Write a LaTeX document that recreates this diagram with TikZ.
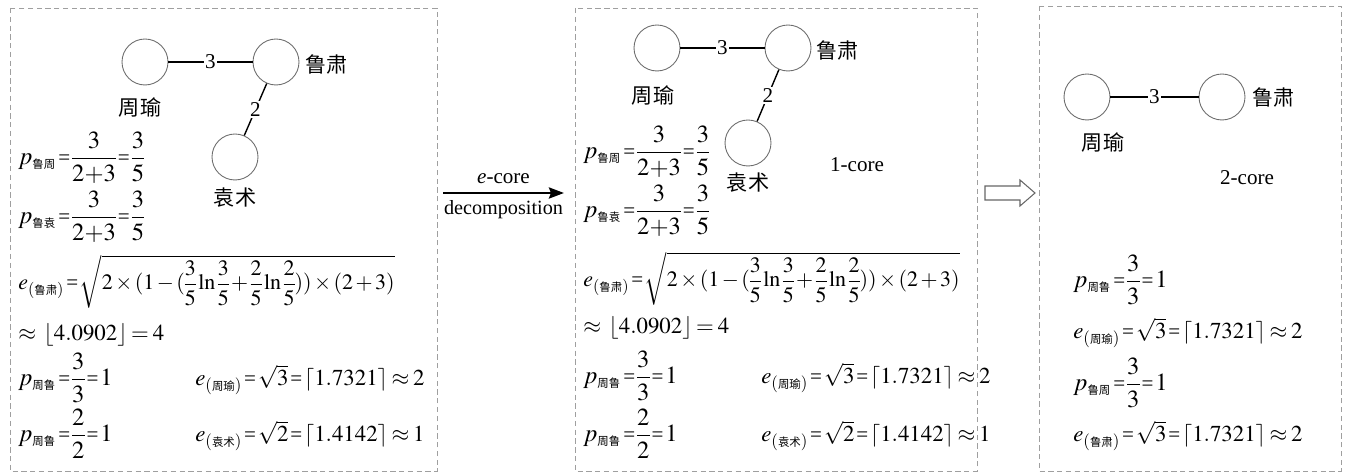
\documentclass[tikz,border=0pt]{standalone}
\usepackage{amsmath}
\usepackage{mathptmx}
\usepackage{fontspec}
\setmainfont{Liberation Serif}
\newfontfamily\cjk{Noto Sans CJK SC}
\usetikzlibrary{positioning,arrows.meta}
\newcommand{\cn}[1]{\mbox{\cjk\fontsize{6.5}{7}\selectfont #1}}
\newcommand{\tighteq}{\mkern1.5mu\mathord{\text{\fontsize{12}{12}\selectfont=}}\mkern1.5mu}
\newcommand{\tightapprox}{\mkern3mu\mathord{\approx}\mkern3mu}
\newcommand{\formulafont}[1]{\fontsize{#1}{#1}\selectfont\medmuskip=2mu\nulldelimiterspace=0pt}
\tikzset{
    corepanel/.style={draw=gray!75, densely dashed, line width=0.5pt},
    corevertex/.style={draw=gray!85!black, circle, minimum size=0.92cm, inner sep=0pt, line width=0.5pt},
    corename/.style={font=\cjk\fontsize{12}{14}\selectfont, inner sep=0pt},
    coreedge/.style={draw, line width=0.8pt},
    coreweight/.style={fill=white, inner sep=0.6pt, font=\fontsize{12}{14}\selectfont},
    coretag/.style={font=\fontsize{12}{14}\selectfont, inner sep=0pt},
    coreformula/.style={anchor=base west, inner sep=0pt, font=\formulafont{14}},
    coreeline/.style={coreformula, font=\formulafont{13}},
    coreroot/.style={coreformula, font=\formulafont{12.5}},
    corearrow/.style={draw, -{Stealth[length=3mm, width=2.2mm, inset=0.4mm]}, line width=1.5pt},
    corehollow/.style={draw=gray!80!black, line width=0.6pt, fill=white}
}

\begin{document}
\begin{tikzpicture}[x=0.02cm, y=-0.02cm]
    \useasboundingbox (0,0) rectangle (1347,472);
    % panels
    \draw[corepanel] (10,8) rectangle (437,471);
    \draw[corepanel] (575,8) rectangle (977,471);
    \draw[corepanel] (1039,6) rectangle (1341,471);

    % panel 1: graph
    \node[corevertex] (zyA) at (145,62) {};
    \node[corevertex] (lsA) at (276,62) {};
    \node[corevertex] (ysA) at (235,157) {};
    \node[corename, below=0.24cm of zyA, xshift=-0.1cm] (zyAname) {周瑜};
    \node[corename, right=0.12cm of lsA, yshift=-0.04cm] (lsAname) {鲁肃};
    \node[corename, below=0.14cm of ysA] (ysAname) {袁术};
    \draw[coreedge] (zyA) -- node[coreweight] (wAone) {3} (lsA);
    \draw[coreedge] (lsA) -- node[coreweight] (wAtwo) {2} (ysA);

    % panel 1: formulas
    \node[coreformula] (fAone) at (18,165) {$p_{\cn{鲁周}}\tighteq\dfrac{3}{2{+}3}\tighteq\dfrac{3}{5}$};
    \node[coreformula] (fAtwo) at (18,224) {$p_{\cn{鲁袁}}\tighteq\dfrac{3}{2{+}3}\tighteq\dfrac{3}{5}$};
    \node[coreroot] (fAthree) at (18,290) {$e_{(\cn{鲁肃})}\tighteq\sqrt{2\times(1-(\dfrac{3}{5}\ln\dfrac{3}{5}+\dfrac{2}{5}\ln\dfrac{2}{5}))\times(2+3)}$};
    \node[coreeline] (fAfour) at (18,341) {$\approx\mkern2mu\lfloor 4.0902\rfloor\mkern3mu{=}\mkern3mu4$};
    \node[coreformula] (fAfive) at (18,386) {$p_{\cn{周鲁}}\tighteq\dfrac{3}{3}\tighteq1$};
    \node[coreeline] (fAsix) at (195,386) {$e_{(\cn{周瑜})}\tighteq\sqrt{3}\tighteq\lceil 1.7321\rceil\tightapprox 2$};
    \node[coreformula] (fAseven) at (18,442) {$p_{\cn{周鲁}}\tighteq\dfrac{2}{2}\tighteq1$};
    \node[coreeline] (fAeight) at (195,442) {$e_{(\cn{袁术})}\tighteq\sqrt{2}\tighteq\lceil 1.4142\rceil\tightapprox 1$};

    % e-core decomposition arrow
    \coordinate (decA) at (443,193);
    \coordinate (decB) at (564,193);
    \draw[corearrow] (decA) -- node[coretag, above=0.16cm] (decup) {\textit{e}-core} node[coretag, below=0.12cm, font=\fontsize{11.5}{13}\selectfont] (decdown) {decomposition} (decB);

    % panel 2: graph
    \node[corevertex] (zyB) at (657,48) {};
    \node[corevertex] (lsB) at (788,48) {};
    \node[corevertex] (ysB) at (748,143) {};
    \node[corename, below=0.27cm of zyB, xshift=-0.08cm] (zyBname) {周瑜};
    \node[corename, right=0.1cm of lsB, yshift=-0.04cm] (lsBname) {鲁肃};
    \node[corename, below=0.13cm of ysB] (ysBname) {袁术};
    \draw[coreedge] (zyB) -- node[coreweight] (wBone) {3} (lsB);
    \draw[coreedge] (lsB) -- node[coreweight] (wBtwo) {2} (ysB);
    \node[coretag] (coreone) at (857,165) {1-core};

    % panel 2: formulas
    \node[coreformula] (fBone) at (583,159) {$p_{\cn{鲁周}}\tighteq\dfrac{3}{2{+}3}\tighteq\dfrac{3}{5}$};
    \node[coreformula] (fBtwo) at (583,218) {$p_{\cn{鲁袁}}\tighteq\dfrac{3}{2{+}3}\tighteq\dfrac{3}{5}$};
    \node[coreroot] (fBthree) at (583,287) {$e_{(\cn{鲁肃})}\tighteq\sqrt{2\times(1-(\dfrac{3}{5}\ln\dfrac{3}{5}+\dfrac{2}{5}\ln\dfrac{2}{5}))\times(2+3)}$};
    \node[coreeline] (fBfour) at (583,334) {$\approx\mkern2mu\lfloor 4.0902\rfloor\mkern3mu{=}\mkern3mu4$};
    \node[coreformula] (fBfive) at (583,384) {$p_{\cn{周鲁}}\tighteq\dfrac{3}{3}\tighteq1$};
    \node[coreeline] (fBsix) at (761,384) {$e_{(\cn{周瑜})}\tighteq\sqrt{3}\tighteq\lceil 1.7321\rceil\tightapprox 2$};
    \node[coreformula] (fBseven) at (583,442) {$p_{\cn{周鲁}}\tighteq\dfrac{2}{2}\tighteq1$};
    \node[coreeline] (fBeight) at (761,442) {$e_{(\cn{袁术})}\tighteq\sqrt{2}\tighteq\lceil 1.4142\rceil\tightapprox 1$};

    % hollow arrow
    \draw[corehollow] (985,186) -- (1020,186) -- (1020,180) -- (1035,193) -- (1020,206) -- (1020,200) -- (985,200) -- cycle;

    % panel 3: graph
    \node[corevertex] (zyC) at (1087,97) {};
    \node[corevertex] (lsC) at (1222,97) {};
    \node[corename, below=0.23cm of zyC, xshift=0.32cm] (zyCname) {周瑜};
    \node[corename, right=0.14cm of lsC] (lsCname) {鲁肃};
    \draw[coreedge] (zyC) -- node[coreweight] (wCone) {3} (lsC);
    \node[coretag] (coretwo) at (1247,178) {2-core};

    % panel 3: formulas
    \node[coreformula] (fCone) at (1073,288) {$p_{\cn{周鲁}}\tighteq\dfrac{3}{3}\tighteq1$};
    \node[coreeline] (fCtwo) at (1073,339) {$e_{(\cn{周瑜})}\tighteq\sqrt{3}\tighteq\lceil 1.7321\rceil\tightapprox 2$};
    \node[coreformula] (fCthree) at (1073,391) {$p_{\cn{鲁周}}\tighteq\dfrac{3}{3}\tighteq1$};
    \node[coreeline] (fCfour) at (1073,442) {$e_{(\cn{鲁肃})}\tighteq\sqrt{3}\tighteq\lceil 1.7321\rceil\tightapprox 2$};
\end{tikzpicture}
\end{document}
